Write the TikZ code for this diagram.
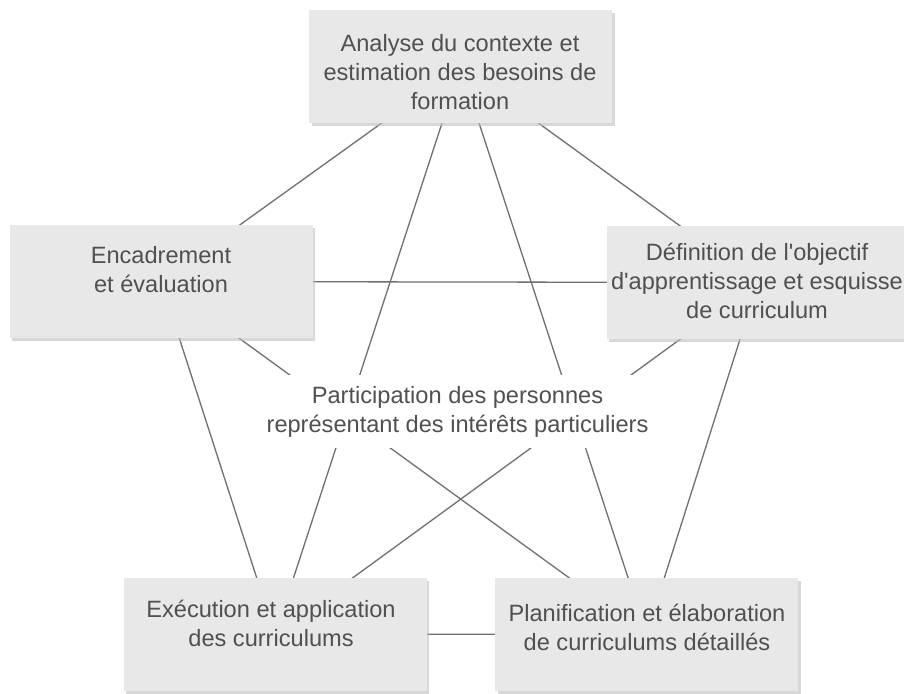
\documentclass[tikz,border=0pt]{standalone}
\usepackage{fontspec}
\setmainfont{Liberation Sans}
\usetikzlibrary{shadows,backgrounds}
\definecolor{boxfill}{RGB}{232,232,232}
\definecolor{txt}{RGB}{80,80,80}
\definecolor{edge}{RGB}{112,112,112}
\begin{document}
\begin{tikzpicture}[x=1pt,y=-1pt,
  box/.style={fill=boxfill, draw=none, minimum width=303pt, minimum height=113pt, inner sep=0pt,
    drop shadow={shadow xshift=2.5pt, shadow yshift=-3pt, fill=black!25, opacity=0.6}},
  lbl/.style={text=txt, font=\fontsize{23.6}{29}\selectfont, align=center, inner sep=0pt},
  link/.style={draw=edge, line width=1.3pt}]
\useasboundingbox (0,0) rectangle (904,693);
% boxes
\node[box] (top) at (460.5,66.5) {};
\node[box] (lft) at (161,281.5) {};
\node[box] (rgt) at (758,282.5) {};
\node[box] (bl)  at (275,634.5) {};
\node[box] (br)  at (646.5,634) {};
% texts
\node[lbl] (topT) at (460,72) {Analyse du contexte et\\estimation des besoins de\\formation};
\node[lbl] (lftT) at (161,270) {Encadrement\\et évaluation};
\node[lbl] (rgtT) at (757,281) {Définition de l\textquotesingle objectif\\d\textquotesingle apprentissage et esquisse\\de curriculum};
\node[lbl] (blT)  at (271,623) {Exécution et application\\des curriculums};
\node[lbl] (brT)  at (647,627) {Planification et élaboration\\de curriculums détaillés};
\node[lbl, fill=white, minimum width=415pt, minimum height=73pt] (mid) at (457.5,411.5)
  {Participation des personnes\\représentant des intérêts particuliers};
% connectors behind everything
\begin{scope}[on background layer]
\fill[white] (0,0) rectangle (904,693);
\draw[link] (top.center) -- (lft.center);
\draw[link] (top.center) -- (rgt.center);
\draw[link] (top.center) -- (bl.center);
\draw[link] (top.center) -- (br.center);
\draw[link] (lft.center) -- (rgt.center);
\draw[link] (lft.center) -- (bl.center);
\draw[link] (lft.center) -- (br.center);
\draw[link] (rgt.center) -- (bl.center);
\draw[link] (rgt.center) -- (br.center);
\draw[link] (bl.center) -- (br.center);
\end{scope}
\end{tikzpicture}
\end{document}
